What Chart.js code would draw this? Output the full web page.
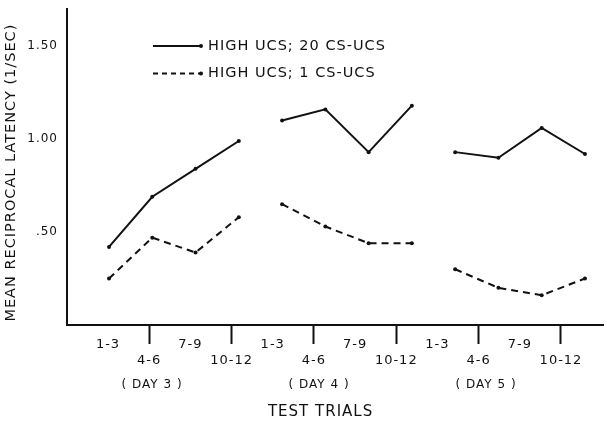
<!DOCTYPE html>
<html><head><meta charset="utf-8">
<script src="https://cdn.jsdelivr.net/npm/chart.js@4.4.0/dist/chart.umd.min.js"></script>
<style>html,body{margin:0;padding:0;background:#fff;} #wrap{width:607px;height:421px;position:relative;}</style>
</head><body><div id="wrap"><canvas id="c"></canvas></div>
<script>
// ---- data ----
const trialLabels = ["1-3","4-6","7-9","10-12","1-3","4-6","7-9","10-12","1-3","4-6","7-9","10-12"];
const dayLabels = ["( DAY 3 )","( DAY 4 )","( DAY 5 )"];
const trialsPerDay = 4;
const seriesNames = ["HIGH UCS; 20 CS-UCS","HIGH UCS; 1 CS-UCS"];
const highUcs20 = [0.42,0.69,0.84,0.99, 1.10,1.16,0.93,1.18, 0.93,0.90,1.06,0.92];
const highUcs1  = [0.25,0.47,0.39,0.58, 0.65,0.53,0.44,0.44, 0.30,0.20,0.16,0.25];
const yTickValues = [0.5,1.0,1.5];
const yTickLabels = [".50","1.00","1.50"];
const yTitle = "MEAN RECIPROCAL LATENCY (1/SEC)  ";
const xTitle = "TEST TRIALS     ";

function toPoints(vals){
  const pts=[];
  vals.forEach((v,i)=>{
    if(i>0 && i%trialsPerDay===0) pts.push({x:i-0.5,y:null});
    pts.push({x:i,y:v});
  });
  return pts;
}

Chart.defaults.font.family = '"DejaVu Sans", sans-serif';
Chart.defaults.color = '#111';

function noPad(s){ s.paddingTop=0; s.paddingBottom=0; s.paddingLeft=0; s.paddingRight=0; }

const spacingPlugin = {id:'spacing', beforeDraw(chart){ chart.ctx.letterSpacing='1px'; }};
const legendPlugin = {id:'inlineLegend', afterDraw(chart){
  const ctx=chart.ctx; ctx.save();
  chart.data.datasets.forEach((ds,i)=>{
    const y = 46 + i*27.5;
    ctx.strokeStyle='#111'; ctx.lineWidth=2;
    ctx.setLineDash(ds.label===seriesNames[1]?[5,4]:[]);
    ctx.beginPath(); ctx.moveTo(153,y); ctx.lineTo(201,y); ctx.stroke();
    ctx.setLineDash([]);
    ctx.beginPath(); ctx.arc(201,y,2,0,Math.PI*2); ctx.fillStyle='#111'; ctx.fill();
    ctx.font='14.5px "DejaVu Sans"'; ctx.textBaseline='middle'; ctx.textAlign='left';
    ctx.fillText(ds.label, 208, y);
  });
  ctx.restore();
}};

new Chart(document.getElementById('c'), {
  type:'line',
  data:{datasets:[
    {label:seriesNames[0], data:toPoints(highUcs20), borderColor:'#111', backgroundColor:'#111', borderWidth:2, pointRadius:2, pointBorderWidth:0, pointBackgroundColor:'#111', spanGaps:false, tension:0},
    {label:seriesNames[1], data:toPoints(highUcs1), borderColor:'#111', backgroundColor:'#111', borderWidth:2, borderDash:[7,5], pointRadius:2, pointBorderWidth:0, pointBackgroundColor:'#111', spanGaps:false, tension:0}
  ]},
  options:{
    responsive:true, maintainAspectRatio:false, animation:false,
    layout:{padding:{top:9,right:0,bottom:0,left:0}},
    plugins:{legend:{display:false}, tooltip:{enabled:false}},
    scales:{
      x:{type:'linear', display:false, min:-0.971, max:11.417},
      x2:{type:'linear', position:'bottom', weight:1, min:-0.996, max:12.02,
        afterBuildTicks:s=>{ s.ticks = trialLabels.map((_,i)=>({value:i})); },
        ticks:{autoSkip:false, maxRotation:0, minRotation:0, padding:-7, color:'#111',
          font:{size:13, lineHeight:1.2},
          callback:(v,i)=> i%2===0 ? trialLabels[i] : ['', trialLabels[i]]},
        grid:{display:true, drawOnChartArea:false, drawTicks:true, tickLength:19, tickWidth:2,
          tickColor:c=> c.index%2===1 ? '#111' : 'rgba(0,0,0,0)'},
        border:{display:true, color:'#111', width:2},
        afterFit:s=>{ s.height=45; noPad(s); }
      },
      x3:{type:'linear', position:'bottom', weight:2, min:-1.036, max:11.8,
        afterBuildTicks:s=>{ s.ticks = dayLabels.map((_,d)=>({value:d*trialsPerDay+1})); },
        ticks:{autoSkip:false, maxRotation:0, minRotation:0, padding:8, color:'#111',
          font:{size:12, lineHeight:1.2},
          callback:(v,i)=> dayLabels[i]},
        grid:{display:false, drawTicks:false},
        border:{display:false},
        title:{display:true, text:xTitle, color:'#111', font:{size:15, lineHeight:1.2}, padding:{top:0,bottom:0}},
        afterFit:s=>{ s.height=51; noPad(s); }
      },
      y:{min:0, max:1.7,
        afterBuildTicks:s=>{ s.ticks = yTickValues.map(v=>({value:v})); },
        ticks:{callback:(v,i)=> yTickLabels[i], padding:9, color:'#111', font:{size:12}},
        grid:{display:false, drawTicks:false},
        border:{display:true, color:'#111', width:2},
        title:{display:true, text:yTitle, color:'#111', font:{size:14.5, lineHeight:1.2}, padding:{top:3,bottom:0}},
        afterFit:s=>{ s.width=67; noPad(s); }
      }
    }
  },
  plugins:[spacingPlugin, legendPlugin]
});
</script>
</body></html>
